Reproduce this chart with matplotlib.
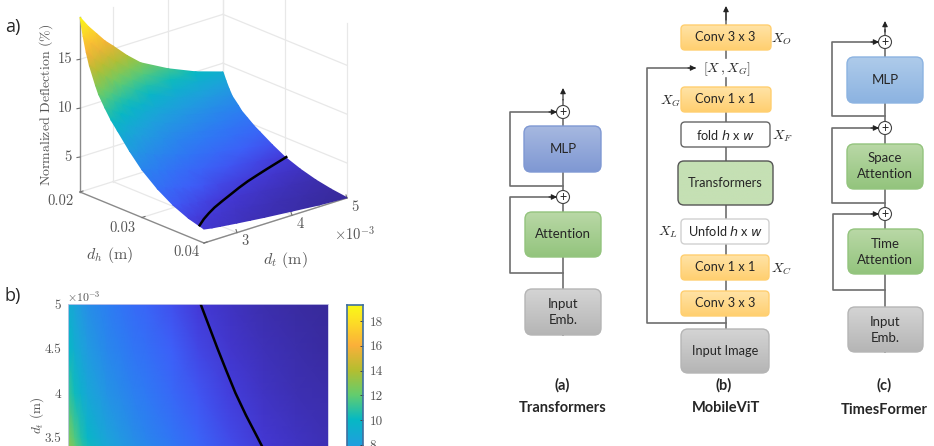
import numpy as np
import matplotlib
matplotlib.use("Agg")
import matplotlib.pyplot as plt
from matplotlib.colors import LinearSegmentedColormap, Normalize
from matplotlib.patches import FancyBboxPatch, Circle

plt.rcParams['mathtext.fontset'] = 'cm'
plt.rcParams['axes.unicode_minus'] = False

# deflection surface
dh_vals = [0.02, 0.0205, 0.021, 0.0215, 0.0225, 0.023, 0.024, 0.025, 0.026, 0.028, 0.03, 0.0325, 0.035, 0.0375, 0.04]
dt_vals = [2.4, 2.55, 2.7, 2.85, 3.0, 3.25, 3.5, 4.0, 4.5, 5.0]
deflection = [
    [19.3, 18.1, 17.1, 16.1, 15.3, 13.9, 12.7, 11.2, 10.0, 9.1],
    [17.5, 16.5, 15.5, 14.6, 13.8, 12.6, 11.6, 10.2, 9.1, 8.3],
    [16.0, 15.0, 14.2, 13.4, 12.7, 11.6, 10.6, 9.3, 8.3, 7.6],
    [14.8, 13.9, 13.1, 12.4, 11.7, 10.7, 9.8, 8.6, 7.7, 7.0],
    [13.0, 12.2, 11.6, 10.9, 10.4, 9.5, 8.7, 7.7, 6.9, 6.3],
    [12.2, 11.5, 10.9, 10.3, 9.7, 8.9, 8.2, 7.2, 6.5, 5.9],
    [11.1, 10.5, 9.9, 9.4, 8.9, 8.1, 7.5, 6.6, 5.9, 5.4],
    [10.1, 9.5, 9.0, 8.5, 8.1, 7.4, 6.8, 6.0, 5.4, 4.9],
    [9.3, 8.8, 8.3, 7.9, 7.5, 6.9, 6.3, 5.6, 5.0, 4.5],
    [7.7, 7.3, 6.9, 6.5, 6.2, 5.8, 5.3, 4.7, 4.2, 3.7],
    [6.3, 6.0, 5.7, 5.4, 5.1, 4.7, 4.4, 3.8, 3.4, 3.0],
    [5.0, 4.8, 4.5, 4.3, 4.1, 3.8, 3.5, 3.1, 2.7, 2.4],
    [4.0, 3.8, 3.6, 3.45, 3.3, 3.05, 2.85, 2.5, 2.2, 1.95],
    [3.3, 3.15, 3.0, 2.9, 2.75, 2.6, 2.4, 2.1, 1.85, 1.65],
    [2.85, 2.7, 2.6, 2.5, 2.4, 2.25, 2.1, 1.85, 1.6, 1.45],
]
curve_dh = [0.0393, 0.0382, 0.03725, 0.03638, 0.03546, 0.03458, 0.03369, 0.03288, 0.03218, 0.0315, 0.03085, 0.0302]
curve_dt = [2.4, 2.6, 2.8, 3.0, 3.25, 3.5, 3.75, 4.0, 4.25, 4.5, 4.75, 5.0]
curve_z = 3.05

z_ticks = [5, 10, 15]
dh_ticks = [0.02, 0.03, 0.04]
dt_ticks = [3, 4, 5]
dt_ticks_b = [3.5, 4, 4.5, 5]
dt_labels_b = ['3.5', '4', '4.5', '5']
cbar_ticks = [8, 10, 12, 14, 16, 18]

zmin, zmax = 1.42, 19.3
cmap_pts = [(1.42, '#382a9a'), (3, '#4439d8'), (4, '#3f5cf8'), (5.5, '#2f78f5'), (8, '#1fa0dd'),
            (10, '#06b9c4'), (12, '#64cd6e'), (14, '#b5be30'), (16, '#fbb03a'), (18, '#fde025'), (19.3, '#f9fb15')]
cmap = LinearSegmentedColormap.from_list('defl', [((v - zmin) / (zmax - zmin), c) for v, c in cmap_pts])
norm = Normalize(zmin, zmax)

BLUE = ('#a6b8e0', '#7f98d3')
LBLUE = ('#aecbea', '#8cb3e1')
GREEN = ('#b9d8a6', '#93c47d')
LGREEN = ('#c5e0b4', '#c5e0b4')
ORANGE = ('#ffe3a6', '#ffcf70')
GRAY = ('#d4d4d4', '#b5b5b5')
WHITE = ('#ffffff', '#ffffff')
TXT = '#262626'
LINE = '#6e6e6e'
LAB = '#555555'

fig = plt.figure(figsize=(9.34, 4.46), dpi=100)
ax = fig.add_axes([0, 0, 1, 1])
ax.set_xlim(0, 934)
ax.set_ylim(446, 0)
ax.axis('off')


def project(dh, dt, z):
    s = (np.asarray(dh) - 0.02) / 0.02
    t = (np.asarray(dt) - 2.4) / 2.6
    return 80 + 124 * s + 143 * t, 192 + 51 * s - 45 * t - (np.asarray(z) - zmin) * 9.77


def line3(a, b, **kw):
    x0, y0 = project(*a)
    x1, y1 = project(*b)
    ax.plot([x0, x1], [y0, y1], **kw)


def box(x0, y0, x1, y1, cols, edge=None, lw=1.0, r=7):
    patch = FancyBboxPatch((x0 + r, y0 + r), x1 - x0 - 2 * r, y1 - y0 - 2 * r,
                           boxstyle='round,pad=%d,rounding_size=%d' % (r, r),
                           fc='none', ec=edge if edge else cols[1], lw=lw, zorder=4)
    ax.add_patch(patch)
    grad = LinearSegmentedColormap.from_list('g', [cols[0], cols[1]])
    im = ax.imshow(np.linspace(0, 1, 64).reshape(-1, 1), extent=(x0, x1, y1, y0), cmap=grad,
                   aspect='auto', zorder=3)
    im.set_clip_path(patch)


def label(x, y, s, size=10, **kw):
    ax.text(x, y, s, ha='center', va='center', fontsize=size, color=TXT, family='Lato', zorder=5, **kw)


def plus(x, y):
    ax.add_patch(Circle((x, y), 6.5, fc='white', ec='#444444', lw=0.8, zorder=5))
    ax.text(x, y - 0.3, '+', ha='center', va='center', fontsize=9, color=TXT, family='Lato', zorder=6)


def skip(x, y0, xl, y1, xend):
    ax.plot([x, xl, xl, xend], [y0, y0, y1, y1], color=LINE, lw=1.2, zorder=2)
    ax.annotate('', xy=(xend + 1, y1), xytext=(xend - 7, y1),
                arrowprops=dict(arrowstyle='-|>,head_width=0.16,head_length=0.32', color='#222222', lw=0.8, shrinkA=0, shrinkB=0), zorder=6)


def up(x, y0, y1):
    ax.plot([x, x], [y0, y1], color=LINE, lw=1.2, zorder=2)


def top_arrow(x, y0, y1):
    ax.annotate('', xy=(x, y1), xytext=(x, y0),
                arrowprops=dict(arrowstyle='-|>,head_width=0.16,head_length=0.32', color='#222222', lw=0.8, shrinkA=0, shrinkB=0), zorder=6)


# ---- panel a, surface in fixed view
grid_kw = dict(color='#e8e8e8', lw=0.9, zorder=1)
for z in z_ticks:
    line3((0.02, 2.4, z), (0.02, 5, z), **grid_kw)
    line3((0.02, 5, z), (0.04, 5, z), **grid_kw)
for dt in dt_ticks:
    line3((0.02, dt, zmin), (0.02, dt, zmax), **grid_kw)
    line3((0.02, dt, zmin), (0.04, dt, zmin), **grid_kw)
for dh in dh_ticks:
    line3((dh, 5, zmin), (dh, 5, zmax), **grid_kw)
    line3((dh, 2.4, zmin), (dh, 5, zmin), **grid_kw)

axis_kw = dict(color='#8a8a8a', lw=1.0, zorder=1.5)
line3((0.02, 2.4, zmin), (0.02, 2.4, zmax), **axis_kw)
line3((0.02, 2.4, zmin), (0.04, 2.4, zmin), **axis_kw)
line3((0.04, 2.4, zmin), (0.04, 5, zmin), **axis_kw)

for z in z_ticks:
    x, y = project(0.02, 2.4, z)
    ax.plot([x - 3, x], [y + 0.5, y], color='#707070', lw=0.8)
    ax.text(x - 8, y, str(z), ha='right', va='center', fontsize=10.5, color=LAB, family='cmr10')
tick_off = {0.02: (60, 201), 0.03: (122, 228), 0.04: (186, 252)}
for dh in dh_ticks:
    x, y = project(dh, 2.4, zmin)
    ax.plot([x, x + 3], [y, y - 1], color='#707070', lw=0.8)
    ax.text(*tick_off[dh], '%.2f' % dh, ha='center', va='center', fontsize=10.5, color=LAB, family='cmr10')
for dt in dt_ticks:
    x, y = project(0.04, dt, zmin)
    ax.plot([x, x - 1], [y, y - 3], color='#707070', lw=0.8)
    ax.text(x + 8, y + 9, str(dt), ha='center', va='center', fontsize=10.5, color=LAB, family='cmr10')
ax.text(355, 234, r'$\times 10^{-3}$', ha='center', va='center', fontsize=10.5, color=LAB)
ax.text(110, 255, r'$d_h$ (m)', ha='center', va='center', fontsize=11.5, color=LAB, family='cmr10')
ax.text(285, 260, r'$d_t$ (m)', ha='center', va='center', fontsize=11.5, color=LAB, family='cmr10')
ax.text(46, 105, r'Normalized Deflection ($\%$)', rotation=90, ha='center', va='center', fontsize=10, color=LAB, family='cmr10')

DH, DT = np.meshgrid(dh_vals, dt_vals, indexing='ij')
Z = np.array(deflection)
PX, PY = project(DH, DT, Z)
ax.pcolormesh(PX, PY, Z, shading='gouraud', cmap=cmap, norm=norm, zorder=2, rasterized=True)
cx, cy = project(curve_dh, curve_dt, curve_z)
ax.plot(cx, cy, color='black', lw=1.8, zorder=2.5)

ax.text(5, 27, 'a)', fontsize=13, color=TXT, family='Open Sans', va='center')
ax.text(5, 296, 'b)', fontsize=13, color=TXT, family='Open Sans', va='center')

# ---- diagram a
x = 563
up(x, 335, 100)
top_arrow(x, 100, 88)
skip(x, 186, 510, 112, 556)
skip(x, 273, 510, 197, 556)
box(524, 126, 601, 172, BLUE)
box(525, 212, 601, 257, GREEN)
box(525, 289, 601, 335, GRAY)
plus(x, 112)
plus(x, 197)
label(563, 149, 'MLP', 9.5)
label(563, 234, 'Attention', 9.5)
label(563, 312, 'Input\nEmb.', 9.5, linespacing=1.3)
label(562, 385, '(a)', 10.5, weight='bold')
label(563, 408, 'Transformers', 10.5, weight='bold')

# ---- diagram b
x = 726
up(x, 329, 78)
up(x, 58, 12)
top_arrow(x, 20, 6)
skip(x, 323, 647, 68, 695)
box(681, 25, 771, 50, ORANGE, r=4)
box(681, 87, 771, 112, ORANGE, r=4)
box(681, 122, 770, 147, WHITE, edge='#666666', r=4)
box(678, 161, 773, 205, LGREEN, edge='#555555', r=6)
box(681, 219, 769, 244, WHITE, edge='#d0d0d0', r=4)
box(681, 255, 769, 280, ORANGE, r=4)
box(681, 291, 769, 316, ORANGE, r=4)
box(681, 329, 769, 373, GRAY, r=7)
label(725, 37, 'Conv 3 x 3', 9.2)
label(725, 99, 'Conv 1 x 1', 9.2)
ax.text(725, 134.5, 'fold $h$ x $w$', ha='center', va='center', fontsize=9.2, color=TXT, family='Lato', math_fontfamily='dejavusans', zorder=5)
label(725, 183, 'Transformers', 9.2)
ax.text(725, 231.5, 'Unfold $h$ x $w$', ha='center', va='center', fontsize=9.2, color=TXT, family='Lato', math_fontfamily='dejavusans', zorder=5)
label(725, 267, 'Conv 1 x 1', 9.2)
label(725, 303, 'Conv 3 x 3', 9.2)
label(725, 351, 'Input Image', 9.2)
for px_, py_, s in [(781, 39, '$X_O$'), (727, 69, '$[X\\,,X_G]$'), (670, 101, '$X_G$'),
                    (782, 136, '$X_F$'), (668, 232, '$X_L$'), (781, 269, '$X_C$')]:
    ax.text(px_, py_, s, ha='center', va='center', fontsize=10, color=TXT, zorder=5)
label(724, 385, '(b)', 10.5, weight='bold')
label(726, 408, 'MobileViT', 10.5, weight='bold')

# ---- diagram c
x = 885
up(x, 352, 30)
top_arrow(x, 32, 21)
skip(x, 116, 832, 42, 878)
skip(x, 203, 832, 128, 878)
skip(x, 290, 833, 214, 878)
box(847, 57, 923, 103, LBLUE)
box(847, 144, 923, 189, GREEN)
box(848, 229, 923, 274, GREEN)
box(848, 307, 923, 352, GRAY)
plus(x, 42)
plus(x, 128)
plus(x, 214)
label(885, 80, 'MLP', 9.5)
label(885, 166, 'Space\nAttention', 9.5, linespacing=1.3)
label(885, 252, 'Time\nAttention', 9.5, linespacing=1.3)
label(885, 330, 'Input\nEmb.', 9.5, linespacing=1.3)
label(884, 385, '(c)', 10.5, weight='bold')
label(884, 410, 'TimesFormer', 10.5, weight='bold')

ax.set_xlim(0, 934)
ax.set_ylim(446, 0)


# ---- panel b, runs off the bottom of the picture
def px_axes(left, top, width, height):
    return fig.add_axes([left / 934, (446 - top - height) / 446, width / 934, height / 446])


axb = px_axes(68, 304, 260, 2.6 * 89)
axb.pcolormesh(DH, DT, Z, shading='gouraud', cmap=cmap, norm=norm, rasterized=True)
axb.plot(curve_dh, curve_dt, color='black', lw=1.8)
axb.set_xlim(0.02, 0.04)
axb.set_ylim(2.4, 5)
axb.set_xticks([])
axb.set_yticks(dt_ticks_b)
axb.set_yticklabels(dt_labels_b, family='cmr10', fontsize=9.5, color=LAB)
axb.tick_params(axis='y', length=0, pad=5)
for sp in axb.spines.values():
    sp.set_color('#c8c8e8')
    sp.set_linewidth(0.6)
ax.text(84, 297, r'$\times 10^{-3}$', ha='center', va='center', fontsize=8.5, color=LAB)
ax.text(37, 415, r'$d_t$ (m)', rotation=90, ha='center', va='center', fontsize=9.5, color=LAB, family='cmr10')

axc = px_axes(347, 305, 16, (zmax - zmin) * 12.38)
axc.imshow(np.linspace(zmax, zmin, 256).reshape(-1, 1), extent=(0, 1, zmin, zmax), cmap=cmap, norm=norm, aspect='auto')
axc.set_xticks([])
axc.yaxis.tick_right()
axc.set_yticks(cbar_ticks)
axc.set_yticklabels([str(v) for v in cbar_ticks], family='cmr10', fontsize=9.5, color=LAB)
axc.tick_params(axis='y', direction='in', length=2, width=0.7, pad=5, color='#444444')
for sp in axc.spines.values():
    sp.set_color('#3f6f9f')
    sp.set_linewidth(1.2)

fig.savefig('out.png', dpi=100)
